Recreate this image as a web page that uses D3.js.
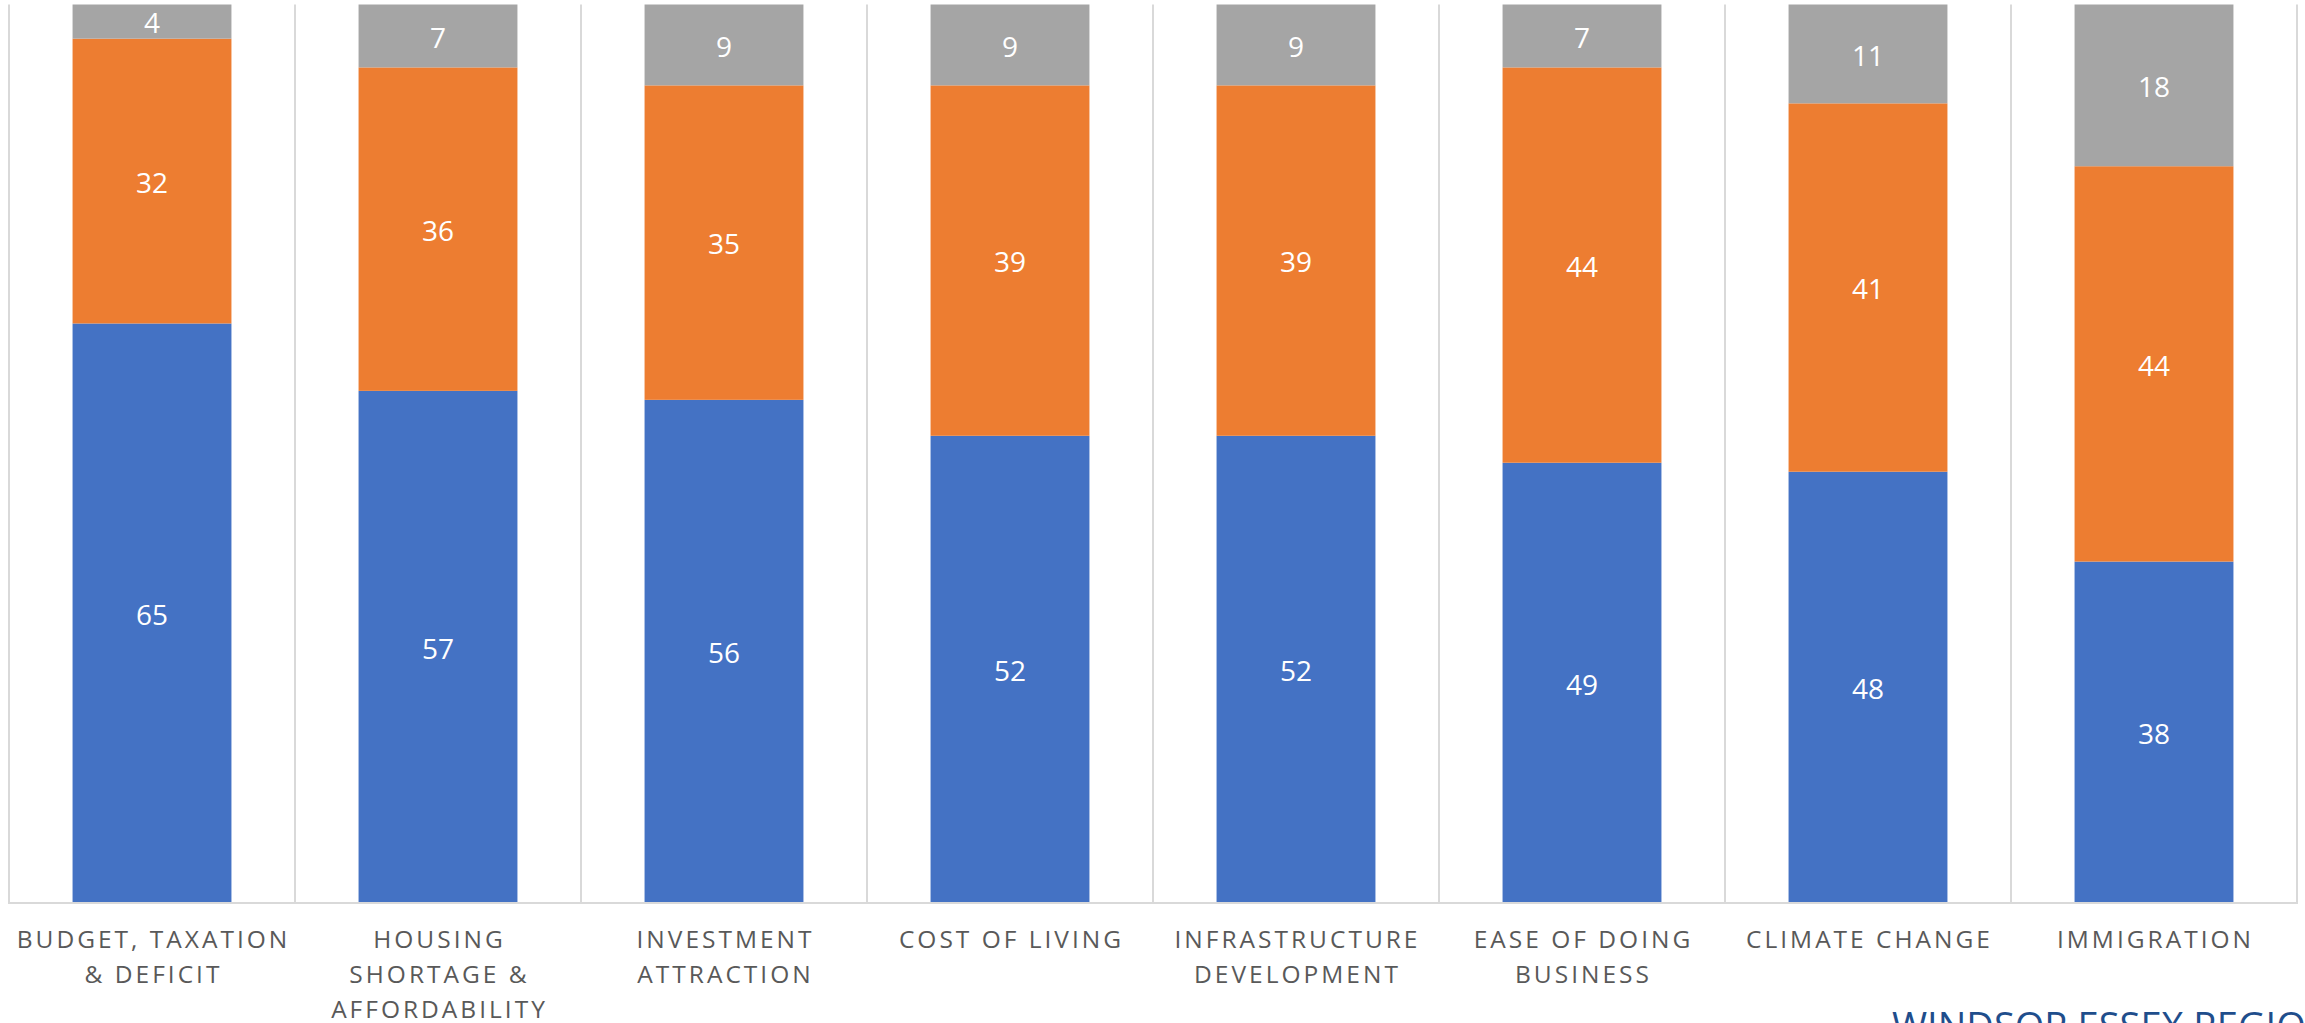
<!DOCTYPE html>
<html>
<head>
<meta charset="utf-8">
<script src="https://cdn.jsdelivr.net/npm/d3@7"></script>
<style>
  html, body { margin: 0; padding: 0; background: #fff; overflow: hidden; }
  svg { display: block; }
</style>
</head>
<body>
<svg id="chart" width="2305" height="1023"></svg>
<script>
const categories = [
  ["BUDGET, TAXATION", "& DEFICIT"],
  ["HOUSING", "SHORTAGE &", "AFFORDABILITY"],
  ["INVESTMENT", "ATTRACTION"],
  ["COST OF LIVING"],
  ["INFRASTRUCTURE", "DEVELOPMENT"],
  ["EASE OF DOING", "BUSINESS"],
  ["CLIMATE CHANGE"],
  ["IMMIGRATION"]
];
const seriesBlue   = [64.5, 57, 56, 52, 52, 49, 48, 38];
const seriesOrange = [31.7, 36, 35, 39, 39, 44, 41, 44];
const seriesGrey   = [3.8, 7, 9, 9, 9, 7, 11, 18];
const seriesColors = ["#4472C4", "#ED7D31", "#A5A5A5"];
const footerText = "WINDSOR ESSEX REGIONAL CHAMBER OF COMMERCE";

(function () {
const svg = d3.select("#chart");
const plotLeft = 9, plotRight = 2297, plotTop = 4.5, plotBottom = 903;

const keys = categories.map((c, i) => i);
const x = d3.scaleBand().domain(keys).range([plotLeft, plotRight]).paddingInner(0).paddingOuter(0);
const y = d3.scaleLinear().domain([0, 100]).range([plotBottom, plotTop]);
const barW = x.bandwidth() / 1.8;

const rows = keys.map(i => ({i, s0: seriesBlue[i], s1: seriesOrange[i], s2: seriesGrey[i]}));
const stack = d3.stack().keys(["s0", "s1", "s2"])(rows);

// vertical category gridlines
const gridG = svg.append("g");
const bounds = keys.map(i => x(i)).concat([plotRight]);
gridG.selectAll("line").data(bounds).join("line")
  .attr("x1", d => d).attr("x2", d => d)
  .attr("y1", plotTop).attr("y2", plotBottom)
  .attr("stroke", "#D9D9D9").attr("stroke-width", 2);

// bars
const barsG = svg.append("g");
stack.forEach((layer, li) => {
  const g = barsG.append("g");
  g.selectAll("rect").data(layer).join("rect")
    .attr("x", d => x(d.data.i) + (x.bandwidth() - barW) / 2)
    .attr("width", barW)
    .attr("y", d => y(d[1]))
    .attr("height", d => y(d[0]) - y(d[1]))
    .attr("fill", seriesColors[li]);
  g.selectAll("text").data(layer).join("text")
    .attr("x", d => x(d.data.i) + x.bandwidth() / 2)
    .attr("y", d => (y(d[0]) + y(d[1])) / 2)
    .attr("dy", "0.42em")
    .attr("text-anchor", "middle")
    .attr("fill", "#FFFFFF")
    .attr("font-family", "'Open Sans', sans-serif")
    .attr("font-size", 28)
    .text(d => Math.round(d[1] - d[0]));
});

// baseline
svg.append("line")
  .attr("x1", plotLeft - 1).attr("x2", plotRight + 1)
  .attr("y1", plotBottom).attr("y2", plotBottom)
  .attr("stroke", "#D9D9D9").attr("stroke-width", 2);

// category labels
const labG = svg.append("g");
keys.forEach(i => {
  const t = labG.append("text")
    .attr("text-anchor", "middle")
    .attr("fill", "#595959")
    .attr("font-family", "'Open Sans', sans-serif")
    .attr("font-size", 24.5)
    .attr("letter-spacing", "3px");
  categories[i].forEach((line, li) => {
    t.append("tspan")
      .attr("x", x(i) + x.bandwidth() / 2 + 1.5)
      .attr("y", 948 + li * 35)
      .text(line);
  });
});

// footer
svg.append("text")
  .attr("x", 1892)
  .attr("y", 1040)
  .attr("fill", "#1F4E8C")
  .attr("font-family", "'Open Sans', sans-serif")
  .attr("font-size", 38)
  .text(footerText);
})();
</script>
</body>
</html>
